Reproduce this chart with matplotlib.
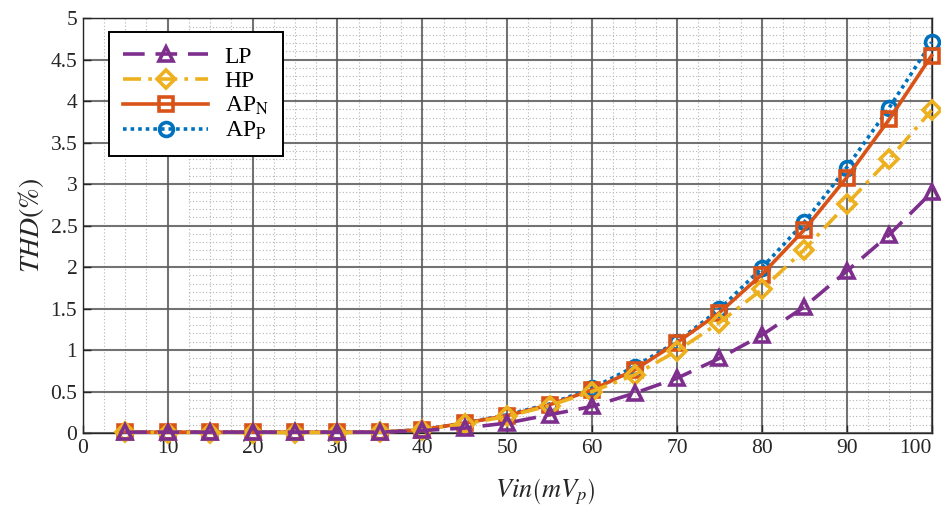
import numpy as np
import matplotlib
matplotlib.use("Agg")
import matplotlib.pyplot as plt
from matplotlib.ticker import MultipleLocator

plt.rcParams['font.family'] = ['Liberation Serif', 'DejaVu Serif']
plt.rcParams['mathtext.fontset'] = 'stix'

# input amplitude (mVp) and THD (%) for each filter output
vin = [5, 10, 15, 20, 25, 30, 35, 40, 45, 50, 55, 60, 65, 70, 75, 80, 85, 90, 95, 100]
thd_lp = [0.01, 0.01, 0.01, 0.01, 0.01, 0.01, 0.01, 0.03, 0.06, 0.12, 0.22, 0.32,
          0.48, 0.66, 0.90, 1.18, 1.52, 1.95, 2.39, 2.90]
thd_hp = [0.01, 0.005, 0.005, 0.005, 0.005, 0.005, 0.01, 0.04, 0.11, 0.20, 0.33, 0.50,
          0.70, 0.99, 1.33, 1.73, 2.21, 2.76, 3.30, 3.89]
thd_apn = [0.01, 0.01, 0.01, 0.01, 0.01, 0.01, 0.01, 0.04, 0.12, 0.21, 0.34, 0.52,
           0.76, 1.09, 1.45, 1.91, 2.45, 3.08, 3.78, 4.55]
thd_app = [0.01, 0.01, 0.01, 0.01, 0.01, 0.01, 0.01, 0.04, 0.12, 0.22, 0.35, 0.54,
           0.80, 1.10, 1.49, 1.99, 2.54, 3.20, 3.92, 4.71]
xticks = list(range(0, 101, 10))

fig = plt.figure(figsize=(9.41, 5.07), dpi=100)
ax = fig.add_axes([0.088, 0.146, 0.902, 0.818])

lw = 2.6
mk = dict(markersize=10, markeredgewidth=2.6, markerfacecolor='none', clip_on=False)

l4, = ax.plot(vin, thd_app, linestyle=(0, (1, 1.1)), color='#0072BD', lw=lw,
              marker='o', markeredgecolor='#0072BD', label=r'AP$_{\mathrm{P}}$', zorder=3, **mk)
l3, = ax.plot(vin, thd_apn, linestyle='-', color='#D95319', lw=lw,
              marker='s', markeredgecolor='#D95319', label=r'AP$_{\mathrm{N}}$', zorder=4, **mk)
l2, = ax.plot(vin, thd_hp, linestyle=(0, (5, 2, 1, 2)), color='#EDB120', lw=lw,
              marker='D', markersize=9, markeredgewidth=2.6, markerfacecolor='none',
              markeredgecolor='#EDB120', clip_on=False, label='HP', zorder=5)
l1, = ax.plot(vin, thd_lp, linestyle=(0, (6, 3)), color='#7E2F8E', lw=lw,
              marker='^', markeredgecolor='#7E2F8E', label='LP', zorder=6, **mk)

ax.set_xlim(0, 100)
ax.set_ylim(0, 5)
ax.set_xticks(xticks, [str(t) for t in xticks])
ax.xaxis.set_minor_locator(MultipleLocator(2.5))
ax.yaxis.set_major_locator(MultipleLocator(0.5))
ax.yaxis.set_minor_locator(MultipleLocator(0.1))
ax.yaxis.set_major_formatter(plt.FuncFormatter(lambda v, p: f'{v:g}'))

# major grid plus dotted minor grid (horizontal minor lines start at 12.5)
ax.grid(which='major', color='#5a5a5a', lw=1.5, alpha=0.85)
ax.xaxis.grid(which='minor', color='#b5b5b5', lw=0.8, linestyle=(0, (1, 2)))
ymin_lines = [v for v in np.arange(0.1, 5.0, 0.1) if abs(v * 2 - round(v * 2)) > 1e-6]
ax.hlines(ymin_lines, 12.5, 100, colors='#b5b5b5', lw=0.8, linestyles=(0, (1, 2)), zorder=0.5)
ax.set_axisbelow(True)

ax.tick_params(which='major', direction='in', length=6, width=1, colors='#262626',
               labelsize=15.5, top=False, right=False, pad=4)
ax.tick_params(which='minor', length=0)
for s in ax.spines.values():
    s.set_color('#262626')
    s.set_linewidth(1)

# keep the last x tick label inside the figure
ax.get_xticklabels()[-1].set_horizontalalignment('right')

ax.set_xlabel(r'$\mathit{Vin}\left(\mathit{mV_p}\right)$', fontsize=19, color='#262626')
ax.xaxis.set_label_coords(0.545, -0.105, transform=ax.transAxes)
ax.xaxis.label.set_va('top')
ax.set_ylabel(r'$\mathit{THD}\left(\%\right)$', fontsize=20, color='#262626', labelpad=3)

leg = ax.legend(handles=[l1, l2, l3, l4], loc='upper left', bbox_to_anchor=(0.031, 0.967),
                borderaxespad=0, fontsize=17, handlelength=3.6, fancybox=False,
                edgecolor='black', framealpha=1, borderpad=0.6, labelspacing=0.12,
                handletextpad=0.7)
leg.get_frame().set_linewidth(1.4)

fig.savefig('out.png', dpi=100)
